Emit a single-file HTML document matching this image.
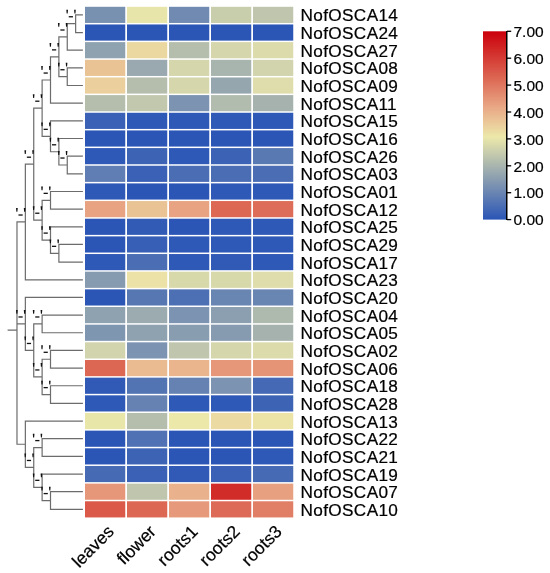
<!DOCTYPE html>
<html><head><meta charset="utf-8"><style>
html,body{margin:0;padding:0;background:#fff;}
svg{display:block;will-change:transform;}
text{font-family:"Liberation Sans",sans-serif;fill:#000;stroke:#000;stroke-width:0.22px;}
</style></head><body>
<svg width="550" height="573" viewBox="0 0 550 573">
<defs><linearGradient id="cb" x1="0" y1="1" x2="0" y2="0">
<stop offset="0.0000" stop-color="#2a55b6"/>
<stop offset="0.4386" stop-color="#ece8aa"/>
<stop offset="0.5957" stop-color="#e9a886"/>
<stop offset="0.7414" stop-color="#dd6b56"/>
<stop offset="1.0000" stop-color="#cb000a"/>
</linearGradient></defs>
<g shape-rendering="auto">
<rect x="85.00" y="6.80" width="40.25" height="16.16" fill="#7991b1"/>
<rect x="127.00" y="6.80" width="40.25" height="16.16" fill="#e8e5aa"/>
<rect x="169.00" y="6.80" width="40.25" height="16.16" fill="#708ab2"/>
<rect x="211.00" y="6.80" width="40.25" height="16.16" fill="#c8cdac"/>
<rect x="253.00" y="6.80" width="40.25" height="16.16" fill="#bfc6ad"/>
<rect x="85.00" y="24.46" width="40.25" height="16.16" fill="#2c56b6"/>
<rect x="127.00" y="24.46" width="40.25" height="16.16" fill="#2c56b6"/>
<rect x="169.00" y="24.46" width="40.25" height="16.16" fill="#2c56b6"/>
<rect x="211.00" y="24.46" width="40.25" height="16.16" fill="#2c56b6"/>
<rect x="253.00" y="24.46" width="40.25" height="16.16" fill="#2c56b6"/>
<rect x="85.00" y="42.12" width="40.25" height="16.16" fill="#8fa2b0"/>
<rect x="127.00" y="42.12" width="40.25" height="16.16" fill="#ebd8a1"/>
<rect x="169.00" y="42.12" width="40.25" height="16.16" fill="#b5bead"/>
<rect x="211.00" y="42.12" width="40.25" height="16.16" fill="#d5d6ab"/>
<rect x="253.00" y="42.12" width="40.25" height="16.16" fill="#dbdbab"/>
<rect x="85.00" y="59.78" width="40.25" height="16.16" fill="#eac395"/>
<rect x="127.00" y="59.78" width="40.25" height="16.16" fill="#99a9af"/>
<rect x="169.00" y="59.78" width="40.25" height="16.16" fill="#d5d6ab"/>
<rect x="211.00" y="59.78" width="40.25" height="16.16" fill="#a8b5ae"/>
<rect x="253.00" y="59.78" width="40.25" height="16.16" fill="#d1d4ac"/>
<rect x="85.00" y="77.44" width="40.25" height="16.16" fill="#ebcf9c"/>
<rect x="127.00" y="77.44" width="40.25" height="16.16" fill="#b5bead"/>
<rect x="169.00" y="77.44" width="40.25" height="16.16" fill="#d5d6ab"/>
<rect x="211.00" y="77.44" width="40.25" height="16.16" fill="#95a6af"/>
<rect x="253.00" y="77.44" width="40.25" height="16.16" fill="#deddab"/>
<rect x="85.00" y="95.10" width="40.25" height="16.16" fill="#b5bead"/>
<rect x="127.00" y="95.10" width="40.25" height="16.16" fill="#c2c8ad"/>
<rect x="169.00" y="95.10" width="40.25" height="16.16" fill="#7c93b1"/>
<rect x="211.00" y="95.10" width="40.25" height="16.16" fill="#b2bcae"/>
<rect x="253.00" y="95.10" width="40.25" height="16.16" fill="#a5b2ae"/>
<rect x="85.00" y="112.76" width="40.25" height="16.16" fill="#3a61b5"/>
<rect x="127.00" y="112.76" width="40.25" height="16.16" fill="#2f59b6"/>
<rect x="169.00" y="112.76" width="40.25" height="16.16" fill="#2f59b6"/>
<rect x="211.00" y="112.76" width="40.25" height="16.16" fill="#2f59b6"/>
<rect x="253.00" y="112.76" width="40.25" height="16.16" fill="#2f59b6"/>
<rect x="85.00" y="130.42" width="40.25" height="16.16" fill="#2c56b6"/>
<rect x="127.00" y="130.42" width="40.25" height="16.16" fill="#2c56b6"/>
<rect x="169.00" y="130.42" width="40.25" height="16.16" fill="#2c56b6"/>
<rect x="211.00" y="130.42" width="40.25" height="16.16" fill="#2c56b6"/>
<rect x="253.00" y="130.42" width="40.25" height="16.16" fill="#2c56b6"/>
<rect x="85.00" y="148.08" width="40.25" height="16.16" fill="#2f59b6"/>
<rect x="127.00" y="148.08" width="40.25" height="16.16" fill="#3d63b5"/>
<rect x="169.00" y="148.08" width="40.25" height="16.16" fill="#2f59b6"/>
<rect x="211.00" y="148.08" width="40.25" height="16.16" fill="#3c62b5"/>
<rect x="253.00" y="148.08" width="40.25" height="16.16" fill="#5979b3"/>
<rect x="85.00" y="165.74" width="40.25" height="16.16" fill="#607eb3"/>
<rect x="127.00" y="165.74" width="40.25" height="16.16" fill="#3a61b5"/>
<rect x="169.00" y="165.74" width="40.25" height="16.16" fill="#4a6db4"/>
<rect x="211.00" y="165.74" width="40.25" height="16.16" fill="#4a6db4"/>
<rect x="253.00" y="165.74" width="40.25" height="16.16" fill="#4a6db4"/>
<rect x="85.00" y="183.40" width="40.25" height="16.16" fill="#2f59b6"/>
<rect x="127.00" y="183.40" width="40.25" height="16.16" fill="#2c56b6"/>
<rect x="169.00" y="183.40" width="40.25" height="16.16" fill="#2c56b6"/>
<rect x="211.00" y="183.40" width="40.25" height="16.16" fill="#2f59b6"/>
<rect x="253.00" y="183.40" width="40.25" height="16.16" fill="#2f59b6"/>
<rect x="85.00" y="201.06" width="40.25" height="16.16" fill="#e8a382"/>
<rect x="127.00" y="201.06" width="40.25" height="16.16" fill="#eac395"/>
<rect x="169.00" y="201.06" width="40.25" height="16.16" fill="#e8a382"/>
<rect x="211.00" y="201.06" width="40.25" height="16.16" fill="#dc6753"/>
<rect x="253.00" y="201.06" width="40.25" height="16.16" fill="#dd6d58"/>
<rect x="85.00" y="218.72" width="40.25" height="16.16" fill="#2c56b6"/>
<rect x="127.00" y="218.72" width="40.25" height="16.16" fill="#325bb6"/>
<rect x="169.00" y="218.72" width="40.25" height="16.16" fill="#2c56b6"/>
<rect x="211.00" y="218.72" width="40.25" height="16.16" fill="#2f59b6"/>
<rect x="253.00" y="218.72" width="40.25" height="16.16" fill="#2f59b6"/>
<rect x="85.00" y="236.38" width="40.25" height="16.16" fill="#2c56b6"/>
<rect x="127.00" y="236.38" width="40.25" height="16.16" fill="#375fb5"/>
<rect x="169.00" y="236.38" width="40.25" height="16.16" fill="#2f59b6"/>
<rect x="211.00" y="236.38" width="40.25" height="16.16" fill="#2f59b6"/>
<rect x="253.00" y="236.38" width="40.25" height="16.16" fill="#2f59b6"/>
<rect x="85.00" y="254.04" width="40.25" height="16.16" fill="#2f59b6"/>
<rect x="127.00" y="254.04" width="40.25" height="16.16" fill="#4a6db4"/>
<rect x="169.00" y="254.04" width="40.25" height="16.16" fill="#2f59b6"/>
<rect x="211.00" y="254.04" width="40.25" height="16.16" fill="#305ab6"/>
<rect x="253.00" y="254.04" width="40.25" height="16.16" fill="#2f59b6"/>
<rect x="85.00" y="271.70" width="40.25" height="16.16" fill="#869ab0"/>
<rect x="127.00" y="271.70" width="40.25" height="16.16" fill="#ece2a7"/>
<rect x="169.00" y="271.70" width="40.25" height="16.16" fill="#d8d9ab"/>
<rect x="211.00" y="271.70" width="40.25" height="16.16" fill="#d8d9ab"/>
<rect x="253.00" y="271.70" width="40.25" height="16.16" fill="#deddab"/>
<rect x="85.00" y="289.36" width="40.25" height="16.16" fill="#2c56b6"/>
<rect x="127.00" y="289.36" width="40.25" height="16.16" fill="#5777b3"/>
<rect x="169.00" y="289.36" width="40.25" height="16.16" fill="#4d6fb4"/>
<rect x="211.00" y="289.36" width="40.25" height="16.16" fill="#6985b2"/>
<rect x="253.00" y="289.36" width="40.25" height="16.16" fill="#6985b2"/>
<rect x="85.00" y="307.02" width="40.25" height="16.16" fill="#8fa2b0"/>
<rect x="127.00" y="307.02" width="40.25" height="16.16" fill="#9cabaf"/>
<rect x="169.00" y="307.02" width="40.25" height="16.16" fill="#7c93b1"/>
<rect x="211.00" y="307.02" width="40.25" height="16.16" fill="#8c9fb0"/>
<rect x="253.00" y="307.02" width="40.25" height="16.16" fill="#afbaae"/>
<rect x="85.00" y="324.68" width="40.25" height="16.16" fill="#7f96b1"/>
<rect x="127.00" y="324.68" width="40.25" height="16.16" fill="#8fa2b0"/>
<rect x="169.00" y="324.68" width="40.25" height="16.16" fill="#899db0"/>
<rect x="211.00" y="324.68" width="40.25" height="16.16" fill="#869ab0"/>
<rect x="253.00" y="324.68" width="40.25" height="16.16" fill="#a5b2ae"/>
<rect x="85.00" y="342.34" width="40.25" height="16.16" fill="#d1d4ac"/>
<rect x="127.00" y="342.34" width="40.25" height="16.16" fill="#7c93b1"/>
<rect x="169.00" y="342.34" width="40.25" height="16.16" fill="#bfc6ad"/>
<rect x="211.00" y="342.34" width="40.25" height="16.16" fill="#d5d6ab"/>
<rect x="253.00" y="342.34" width="40.25" height="16.16" fill="#dbdbab"/>
<rect x="85.00" y="360.00" width="40.25" height="16.16" fill="#dc6753"/>
<rect x="127.00" y="360.00" width="40.25" height="16.16" fill="#eabb90"/>
<rect x="169.00" y="360.00" width="40.25" height="16.16" fill="#eab58d"/>
<rect x="211.00" y="360.00" width="40.25" height="16.16" fill="#e69779"/>
<rect x="253.00" y="360.00" width="40.25" height="16.16" fill="#e59476"/>
<rect x="85.00" y="377.66" width="40.25" height="16.16" fill="#305ab6"/>
<rect x="127.00" y="377.66" width="40.25" height="16.16" fill="#5374b3"/>
<rect x="169.00" y="377.66" width="40.25" height="16.16" fill="#6682b2"/>
<rect x="211.00" y="377.66" width="40.25" height="16.16" fill="#7c93b1"/>
<rect x="253.00" y="377.66" width="40.25" height="16.16" fill="#4569b4"/>
<rect x="85.00" y="395.32" width="40.25" height="16.16" fill="#2f59b6"/>
<rect x="127.00" y="395.32" width="40.25" height="16.16" fill="#6682b2"/>
<rect x="169.00" y="395.32" width="40.25" height="16.16" fill="#2f59b6"/>
<rect x="211.00" y="395.32" width="40.25" height="16.16" fill="#2f59b6"/>
<rect x="253.00" y="395.32" width="40.25" height="16.16" fill="#3d63b5"/>
<rect x="85.00" y="412.98" width="40.25" height="16.16" fill="#e9e6aa"/>
<rect x="127.00" y="412.98" width="40.25" height="16.16" fill="#b5bead"/>
<rect x="169.00" y="412.98" width="40.25" height="16.16" fill="#ece8aa"/>
<rect x="211.00" y="412.98" width="40.25" height="16.16" fill="#ebdba2"/>
<rect x="253.00" y="412.98" width="40.25" height="16.16" fill="#ece3a7"/>
<rect x="85.00" y="430.64" width="40.25" height="16.16" fill="#2c56b6"/>
<rect x="127.00" y="430.64" width="40.25" height="16.16" fill="#5072b4"/>
<rect x="169.00" y="430.64" width="40.25" height="16.16" fill="#2c56b6"/>
<rect x="211.00" y="430.64" width="40.25" height="16.16" fill="#2c56b6"/>
<rect x="253.00" y="430.64" width="40.25" height="16.16" fill="#2c56b6"/>
<rect x="85.00" y="448.30" width="40.25" height="16.16" fill="#2c56b6"/>
<rect x="127.00" y="448.30" width="40.25" height="16.16" fill="#3d63b5"/>
<rect x="169.00" y="448.30" width="40.25" height="16.16" fill="#2c56b6"/>
<rect x="211.00" y="448.30" width="40.25" height="16.16" fill="#2c56b6"/>
<rect x="253.00" y="448.30" width="40.25" height="16.16" fill="#2f59b6"/>
<rect x="85.00" y="465.96" width="40.25" height="16.16" fill="#466bb4"/>
<rect x="127.00" y="465.96" width="40.25" height="16.16" fill="#3a61b5"/>
<rect x="169.00" y="465.96" width="40.25" height="16.16" fill="#305ab6"/>
<rect x="211.00" y="465.96" width="40.25" height="16.16" fill="#3a61b5"/>
<rect x="253.00" y="465.96" width="40.25" height="16.16" fill="#466bb4"/>
<rect x="85.00" y="483.62" width="40.25" height="16.16" fill="#e69779"/>
<rect x="127.00" y="483.62" width="40.25" height="16.16" fill="#bfc6ad"/>
<rect x="169.00" y="483.62" width="40.25" height="16.16" fill="#e9b28c"/>
<rect x="211.00" y="483.62" width="40.25" height="16.16" fill="#d22c29"/>
<rect x="253.00" y="483.62" width="40.25" height="16.16" fill="#e7a080"/>
<rect x="85.00" y="501.28" width="40.25" height="16.16" fill="#da5949"/>
<rect x="127.00" y="501.28" width="40.25" height="16.16" fill="#dc6753"/>
<rect x="169.00" y="501.28" width="40.25" height="16.16" fill="#e69a7b"/>
<rect x="211.00" y="501.28" width="40.25" height="16.16" fill="#dd6a56"/>
<rect x="253.00" y="501.28" width="40.25" height="16.16" fill="#e17f66"/>
</g>
<g stroke="#6c6c6c" stroke-width="1.2" fill="none" stroke-linecap="square">
<path d="M75.64 14.88H82.30 M75.64 32.54H82.30 M75.64 14.88V32.54 M67.26 23.71H75.64 M67.26 50.20H82.30 M67.26 23.71V50.20 M58.88 36.95H67.26 M67.26 67.86H82.30 M67.26 85.52H82.30 M67.26 67.86V85.52 M58.88 76.69H67.26 M58.88 36.95V76.69 M50.50 56.82H58.88 M50.50 103.18H82.30 M50.50 56.82V103.18 M42.12 80.00H50.50 M50.50 120.84H82.30 M58.88 138.50H82.30 M67.26 156.16H82.30 M67.26 173.82H82.30 M67.26 156.16V173.82 M58.88 164.99H67.26 M58.88 138.50V164.99 M50.50 151.75H58.88 M50.50 120.84V151.75 M42.12 136.29H50.50 M42.12 80.00V136.29 M33.74 108.15H42.12 M50.50 191.48H82.30 M50.50 209.14H82.30 M50.50 191.48V209.14 M42.12 200.31H50.50 M50.50 226.80H82.30 M58.88 244.46H82.30 M58.88 262.12H82.30 M58.88 244.46V262.12 M50.50 253.29H58.88 M50.50 226.80V253.29 M42.12 240.05H50.50 M42.12 200.31V240.05 M33.74 220.18H42.12 M33.74 108.15V220.18 M25.36 164.16H33.74 M25.36 279.78H82.30 M25.36 164.16V279.78 M16.98 221.97H25.36 M25.36 297.44H82.30 M42.12 315.10H82.30 M42.12 332.76H82.30 M42.12 315.10V332.76 M33.74 323.93H42.12 M50.50 350.42H82.30 M50.50 368.08H82.30 M50.50 350.42V368.08 M42.12 359.25H50.50 M50.50 385.74H82.30 M50.50 403.40H82.30 M50.50 385.74V403.40 M42.12 394.57H50.50 M42.12 359.25V394.57 M33.74 376.91H42.12 M33.74 323.93V376.91 M25.36 350.42H33.74 M25.36 297.44V350.42 M16.98 323.93H25.36 M25.36 421.06H82.30 M42.12 438.72H82.30 M42.12 456.38H82.30 M42.12 438.72V456.38 M33.74 447.55H42.12 M42.12 474.04H82.30 M50.50 491.70H82.30 M50.50 509.36H82.30 M50.50 491.70V509.36 M42.12 500.53H50.50 M42.12 474.04V500.53 M33.74 487.28H42.12 M33.74 447.55V487.28 M25.36 467.42H33.74 M25.36 421.06V467.42 M16.98 444.24H25.36 M16.98 221.97V444.24 M8.20 330.05H16.98"/>
</g>
<g fill="#111">
<path d="M66.31 9.81h1.7l-0.35 3.8h-1.0z"/>
<path d="M74.09 9.81h1.7l-0.35 3.8h-1.0z"/>
<rect x="68.75" y="16.11" width="4.2" height="1.3"/>
<path d="M57.93 23.05h1.7l-0.35 3.8h-1.0z"/>
<path d="M65.71 23.05h1.7l-0.35 3.8h-1.0z"/>
<rect x="60.37" y="29.35" width="4.2" height="1.3"/>
<path d="M57.93 62.79h1.7l-0.35 3.8h-1.0z"/>
<path d="M65.71 62.79h1.7l-0.35 3.8h-1.0z"/>
<rect x="60.37" y="69.09" width="4.2" height="1.3"/>
<path d="M49.55 42.92h1.7l-0.35 3.8h-1.0z"/>
<path d="M57.33 42.92h1.7l-0.35 3.8h-1.0z"/>
<rect x="51.99" y="49.22" width="4.2" height="1.3"/>
<path d="M41.17 66.10h1.7l-0.35 3.8h-1.0z"/>
<path d="M48.95 66.10h1.7l-0.35 3.8h-1.0z"/>
<rect x="43.61" y="72.40" width="4.2" height="1.3"/>
<path d="M57.93 151.09h1.7l-0.35 3.8h-1.0z"/>
<path d="M65.71 151.09h1.7l-0.35 3.8h-1.0z"/>
<rect x="60.37" y="157.39" width="4.2" height="1.3"/>
<path d="M49.55 137.84h1.7l-0.35 3.8h-1.0z"/>
<path d="M57.33 137.84h1.7l-0.35 3.8h-1.0z"/>
<rect x="51.99" y="144.15" width="4.2" height="1.3"/>
<path d="M41.17 122.39h1.7l-0.35 3.8h-1.0z"/>
<path d="M48.95 122.39h1.7l-0.35 3.8h-1.0z"/>
<rect x="43.61" y="128.69" width="4.2" height="1.3"/>
<path d="M32.79 94.25h1.7l-0.35 3.8h-1.0z"/>
<path d="M40.57 94.25h1.7l-0.35 3.8h-1.0z"/>
<rect x="35.23" y="100.55" width="4.2" height="1.3"/>
<path d="M41.17 186.41h1.7l-0.35 3.8h-1.0z"/>
<path d="M48.95 186.41h1.7l-0.35 3.8h-1.0z"/>
<rect x="43.61" y="192.71" width="4.2" height="1.3"/>
<path d="M49.55 239.39h1.7l-0.35 3.8h-1.0z"/>
<path d="M57.33 239.39h1.7l-0.35 3.8h-1.0z"/>
<rect x="51.99" y="245.69" width="4.2" height="1.3"/>
<path d="M41.17 226.15h1.7l-0.35 3.8h-1.0z"/>
<path d="M48.95 226.15h1.7l-0.35 3.8h-1.0z"/>
<rect x="43.61" y="232.45" width="4.2" height="1.3"/>
<path d="M32.79 206.28h1.7l-0.35 3.8h-1.0z"/>
<path d="M40.57 206.28h1.7l-0.35 3.8h-1.0z"/>
<rect x="35.23" y="212.58" width="4.2" height="1.3"/>
<path d="M24.41 150.26h1.7l-0.35 3.8h-1.0z"/>
<path d="M32.19 150.26h1.7l-0.35 3.8h-1.0z"/>
<rect x="26.85" y="156.56" width="4.2" height="1.3"/>
<path d="M16.03 208.07h1.7l-0.35 3.8h-1.0z"/>
<path d="M23.81 208.07h1.7l-0.35 3.8h-1.0z"/>
<rect x="18.47" y="214.37" width="4.2" height="1.3"/>
<path d="M32.79 310.03h1.7l-0.35 3.8h-1.0z"/>
<path d="M40.57 310.03h1.7l-0.35 3.8h-1.0z"/>
<rect x="35.23" y="316.33" width="4.2" height="1.3"/>
<path d="M41.17 345.35h1.7l-0.35 3.8h-1.0z"/>
<path d="M48.95 345.35h1.7l-0.35 3.8h-1.0z"/>
<rect x="43.61" y="351.65" width="4.2" height="1.3"/>
<path d="M41.17 380.67h1.7l-0.35 3.8h-1.0z"/>
<path d="M48.95 380.67h1.7l-0.35 3.8h-1.0z"/>
<rect x="43.61" y="386.97" width="4.2" height="1.3"/>
<path d="M32.79 363.01h1.7l-0.35 3.8h-1.0z"/>
<path d="M40.57 363.01h1.7l-0.35 3.8h-1.0z"/>
<rect x="35.23" y="369.31" width="4.2" height="1.3"/>
<path d="M24.41 336.52h1.7l-0.35 3.8h-1.0z"/>
<path d="M32.19 336.52h1.7l-0.35 3.8h-1.0z"/>
<rect x="26.85" y="342.82" width="4.2" height="1.3"/>
<path d="M16.03 310.03h1.7l-0.35 3.8h-1.0z"/>
<path d="M23.81 310.03h1.7l-0.35 3.8h-1.0z"/>
<rect x="18.47" y="316.33" width="4.2" height="1.3"/>
<path d="M32.79 433.65h1.7l-0.35 3.8h-1.0z"/>
<path d="M40.57 433.65h1.7l-0.35 3.8h-1.0z"/>
<rect x="35.23" y="439.95" width="4.2" height="1.3"/>
<path d="M41.17 486.63h1.7l-0.35 3.8h-1.0z"/>
<path d="M48.95 486.63h1.7l-0.35 3.8h-1.0z"/>
<rect x="43.61" y="492.93" width="4.2" height="1.3"/>
<path d="M32.79 473.38h1.7l-0.35 3.8h-1.0z"/>
<path d="M40.57 473.38h1.7l-0.35 3.8h-1.0z"/>
<rect x="35.23" y="479.68" width="4.2" height="1.3"/>
<path d="M24.41 453.52h1.7l-0.35 3.8h-1.0z"/>
<path d="M32.19 453.52h1.7l-0.35 3.8h-1.0z"/>
<rect x="26.85" y="459.82" width="4.2" height="1.3"/>
</g>
<g font-size="17.20">
<text x="300.60" y="21.38" letter-spacing="0.34">NofOSCA14</text>
<text x="300.60" y="39.04" letter-spacing="0.34">NofOSCA24</text>
<text x="300.60" y="56.70" letter-spacing="0.34">NofOSCA27</text>
<text x="300.60" y="74.36" letter-spacing="0.34">NofOSCA08</text>
<text x="300.60" y="92.02" letter-spacing="0.34">NofOSCA09</text>
<text x="300.60" y="109.68" letter-spacing="0.34">NofOSCA11</text>
<text x="300.60" y="127.34" letter-spacing="0.34">NofOSCA15</text>
<text x="300.60" y="145.00" letter-spacing="0.34">NofOSCA16</text>
<text x="300.60" y="162.66" letter-spacing="0.34">NofOSCA26</text>
<text x="300.60" y="180.32" letter-spacing="0.34">NofOSCA03</text>
<text x="300.60" y="197.98" letter-spacing="0.34">NofOSCA01</text>
<text x="300.60" y="215.64" letter-spacing="0.34">NofOSCA12</text>
<text x="300.60" y="233.30" letter-spacing="0.34">NofOSCA25</text>
<text x="300.60" y="250.96" letter-spacing="0.34">NofOSCA29</text>
<text x="300.60" y="268.62" letter-spacing="0.34">NofOSCA17</text>
<text x="300.60" y="286.28" letter-spacing="0.34">NofOSCA23</text>
<text x="300.60" y="303.94" letter-spacing="0.34">NofOSCA20</text>
<text x="300.60" y="321.60" letter-spacing="0.34">NofOSCA04</text>
<text x="300.60" y="339.26" letter-spacing="0.34">NofOSCA05</text>
<text x="300.60" y="356.92" letter-spacing="0.34">NofOSCA02</text>
<text x="300.60" y="374.58" letter-spacing="0.34">NofOSCA06</text>
<text x="300.60" y="392.24" letter-spacing="0.34">NofOSCA18</text>
<text x="300.60" y="409.90" letter-spacing="0.34">NofOSCA28</text>
<text x="300.60" y="427.56" letter-spacing="0.34">NofOSCA13</text>
<text x="300.60" y="445.22" letter-spacing="0.34">NofOSCA22</text>
<text x="300.60" y="462.88" letter-spacing="0.34">NofOSCA21</text>
<text x="300.60" y="480.54" letter-spacing="0.34">NofOSCA19</text>
<text x="300.60" y="498.20" letter-spacing="0.34">NofOSCA07</text>
<text x="300.60" y="515.86" letter-spacing="0.34">NofOSCA10</text>
</g>
<g font-size="17.50" text-anchor="end">
<text transform="translate(115.00 532.60) rotate(-45)">leaves</text>
<text transform="translate(157.00 532.60) rotate(-45)">flower</text>
<text transform="translate(199.00 532.60) rotate(-45)">roots1</text>
<text transform="translate(241.00 532.60) rotate(-45)">roots2</text>
<text transform="translate(283.00 532.60) rotate(-45)">roots3</text>
</g>
<rect x="483" y="31.3" width="23.5" height="188.3" fill="url(#cb)"/>
<path d="M506.75 30.9V220.1" stroke="#000" stroke-width="1.5"/>
<path d="M507 219.60H511.2" stroke="#000" stroke-width="1.3"/>
<text x="513.5" y="225.30" font-size="15.50">0.00</text>
<path d="M507 192.70H511.2" stroke="#000" stroke-width="1.3"/>
<text x="513.5" y="198.40" font-size="15.50">1.00</text>
<path d="M507 165.80H511.2" stroke="#000" stroke-width="1.3"/>
<text x="513.5" y="171.50" font-size="15.50">2.00</text>
<path d="M507 138.90H511.2" stroke="#000" stroke-width="1.3"/>
<text x="513.5" y="144.60" font-size="15.50">3.00</text>
<path d="M507 112.00H511.2" stroke="#000" stroke-width="1.3"/>
<text x="513.5" y="117.70" font-size="15.50">4.00</text>
<path d="M507 85.10H511.2" stroke="#000" stroke-width="1.3"/>
<text x="513.5" y="90.80" font-size="15.50">5.00</text>
<path d="M507 58.20H511.2" stroke="#000" stroke-width="1.3"/>
<text x="513.5" y="63.90" font-size="15.50">6.00</text>
<path d="M507 31.30H511.2" stroke="#000" stroke-width="1.3"/>
<text x="513.5" y="37.00" font-size="15.50">7.00</text>
</svg></body></html>
